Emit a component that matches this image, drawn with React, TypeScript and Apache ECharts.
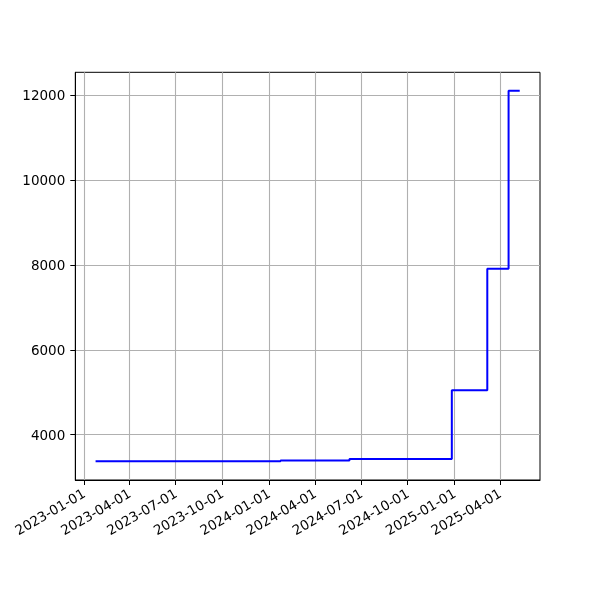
import React, { useEffect, useRef } from "react";
import * as echarts from "echarts";

const dates = ["2023-01-24", "2024-01-24", "2024-06-08", "2024-12-27", "2025-03-07", "2025-04-18", "2025-05-10"];
const values = [3370, 3387, 3425, 5045, 7910, 12110, 12110];
const xTickLabels = ["2023-01-01", "2023-04-01", "2023-07-01", "2023-10-01", "2024-01-01", "2024-04-01", "2024-07-01", "2024-10-01", "2025-01-01", "2025-04-01"];
const yTicks = [4000, 6000, 8000, 10000, 12000];

const ts = (s: string) => {
  const [y, m, d] = s.split("-").map(Number);
  return Date.UTC(y, m - 1, d);
};

export default function App() {
  const ref = useRef<HTMLDivElement>(null);
  useEffect(() => {
    if (!ref.current) return;
    const chart = echarts.init(ref.current, null, { renderer: "svg" });
    const xTicks = xTickLabels.map(ts);
    const labelMap: Record<number, string> = {};
    xTickLabels.forEach((l) => (labelMap[ts(l)] = l));
    chart.setOption({
      animation: false,
      grid: {
        left: 75.3,
        right: 60,
        top: 72.3,
        bottom: 120,
        show: true,
        borderColor: "#000",
        borderWidth: 1,
        backgroundColor: "transparent",
      },
      xAxis: {
        type: "value",
        min: ts("2022-12-15"),
        max: ts("2025-06-19"),
        axisLine: { show: true, onZero: false, lineStyle: { color: "#000", width: 1 } },
        axisTick: { show: true, inside: false, length: 5, customValues: xTicks, lineStyle: { color: "#000" } },
        axisLabel: {
          customValues: xTicks,
          rotate: 30,
          margin: 12,
          color: "#000",
          fontSize: 13.5,
          fontFamily: "DejaVu Sans",
          formatter: (v: number) => labelMap[v] ?? "",
          hideOverlap: false,
          showMinLabel: true,
          showMaxLabel: true,
        },
        splitLine: { show: true, lineStyle: { color: "#b0b0b0", width: 1.1 } },
      },
      yAxis: {
        type: "value",
        min: 2930,
        max: 12545,
        axisLine: { show: true, onZero: false, lineStyle: { color: "#000", width: 1 } },
        axisTick: { show: true, inside: false, length: 5, customValues: yTicks, lineStyle: { color: "#000" } },
        axisLabel: {
          customValues: yTicks,
          margin: 10,
          color: "#000",
          fontSize: 13.5,
          fontFamily: "DejaVu Sans",
          formatter: (v: number) => String(v),
          showMinLabel: true,
          showMaxLabel: true,
        },
        splitLine: { show: true, lineStyle: { color: "#b0b0b0", width: 1.1 } },
      },
      series: [
        {
          type: "line",
          step: "end",
          data: dates.map((d, i) => [ts(d), values[i]]),
          showSymbol: false,
          symbol: "none",
          lineStyle: { color: "#0000ff", width: 2 },
        },
      ],
    });
    return () => chart.dispose();
  }, []);
  return <div ref={ref} style={{ position: "fixed", left: 0, top: 0, width: 600, height: 600 }} />;
}
